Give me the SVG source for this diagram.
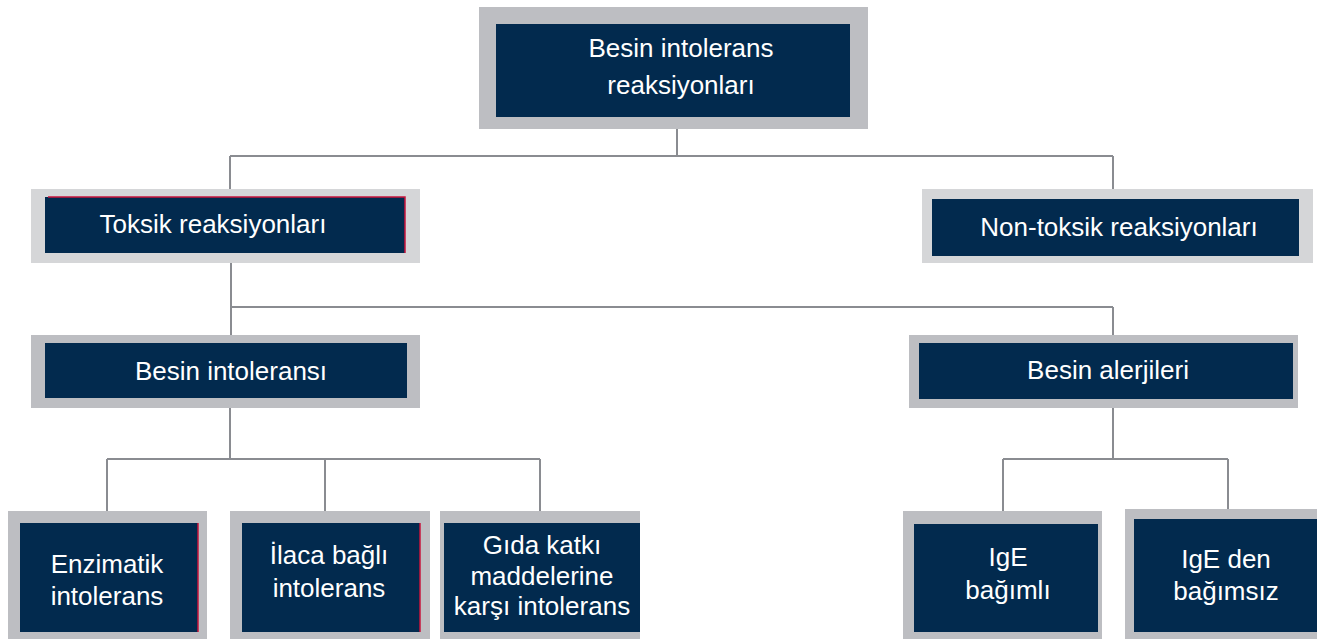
<svg xmlns="http://www.w3.org/2000/svg" width="1317" height="639" viewBox="0 0 1317 639">
<style>
.bg{fill:#BDBEC2}
.bgl{fill:#D5D6D8}
.in{fill:#022A4E}
.t{font-family:"Liberation Sans",Arial,sans-serif;font-size:26px;fill:#FFFFFF;text-anchor:middle}
.c{stroke:#8A8C91;stroke-width:2;fill:none}
.r{stroke:#C8143C;stroke-width:1.5;fill:none}
</style>
<rect width="1317" height="639" fill="#FFFFFF"/>
<g id="connectors">
<path class="c" d="M677 129V156M230 156H1113M230 156V189M1113 156V189"/>
<path class="c" d="M231 263V335M231 307H1113M1113 307V335"/>
<path class="c" d="M230 408V459M107 459H540M107 459V511M325 459V511M540 459V511"/>
<path class="c" d="M1113 408V459M1003 459H1228M1003 459V511M1228 459V509"/>
</g>
<g id="n-root">
<rect class="bg" x="479" y="7" width="389" height="122"/>
<rect class="in" x="496" y="24" width="354" height="93"/>
<text class="t" x="681" y="57">Besin intolerans</text>
<text class="t" x="681" y="94">reaksiyonları</text>
</g>
<g id="n-toksik">
<rect class="bgl" x="31" y="189" width="389" height="74"/>
<rect class="in" x="45" y="197" width="360" height="56"/>
<path class="r" d="M48 197H405V253"/>
<text class="t" x="213" y="233">Toksik reaksiyonları</text>
</g>
<g id="n-nontoksik">
<rect class="bgl" x="922" y="189" width="391" height="74"/>
<rect class="in" x="932" y="199" width="367" height="57"/>
<text class="t" x="1119" y="236">Non-toksik reaksiyonları</text>
</g>
<g id="n-besinint">
<rect class="bg" x="31" y="335" width="389" height="73"/>
<rect class="in" x="45" y="343" width="362" height="55"/>
<text class="t" x="231" y="380">Besin intoleransı</text>
</g>
<g id="n-alerji">
<rect class="bg" x="909" y="335" width="389" height="73"/>
<rect class="in" x="919" y="343" width="374" height="56"/>
<text class="t" x="1108" y="379">Besin alerjileri</text>
</g>
<g id="n-enzim">
<rect class="bg" x="8" y="511" width="199" height="128"/>
<rect class="in" x="20" y="523" width="178" height="109"/>
<path class="r" d="M198 523V632"/>
<text class="t" x="107" y="573">Enzimatik</text>
<text class="t" x="107" y="605">intolerans</text>
</g>
<g id="n-ilaca">
<rect class="bg" x="230" y="511" width="200" height="128"/>
<rect class="in" x="242" y="523" width="178" height="109"/>
<path class="r" d="M420 523V632"/>
<text class="t" x="329" y="564">İlaca bağlı</text>
<text class="t" x="329" y="597">intolerans</text>
</g>
<g id="n-gida">
<rect class="bg" x="440" y="511" width="200" height="128"/>
<rect class="in" x="444" y="523" width="196" height="109"/>
<text class="t" x="542" y="554">Gıda katkı</text>
<text class="t" x="542" y="585">maddelerine</text>
<text class="t" x="542" y="615">karşı intolerans</text>
</g>
<g id="n-ige">
<rect class="bg" x="903" y="511" width="199" height="128"/>
<rect class="in" x="914" y="524" width="184" height="108"/>
<text class="t" x="1008" y="566">IgE</text>
<text class="t" x="1008" y="599">bağımlı</text>
</g>
<g id="n-igeden">
<rect class="bg" x="1125" y="509" width="192" height="130"/>
<rect class="in" x="1134" y="519" width="183" height="113"/>
<text class="t" x="1226" y="568">IgE den</text>
<text class="t" x="1226" y="600">bağımsız</text>
</g>
</svg>
